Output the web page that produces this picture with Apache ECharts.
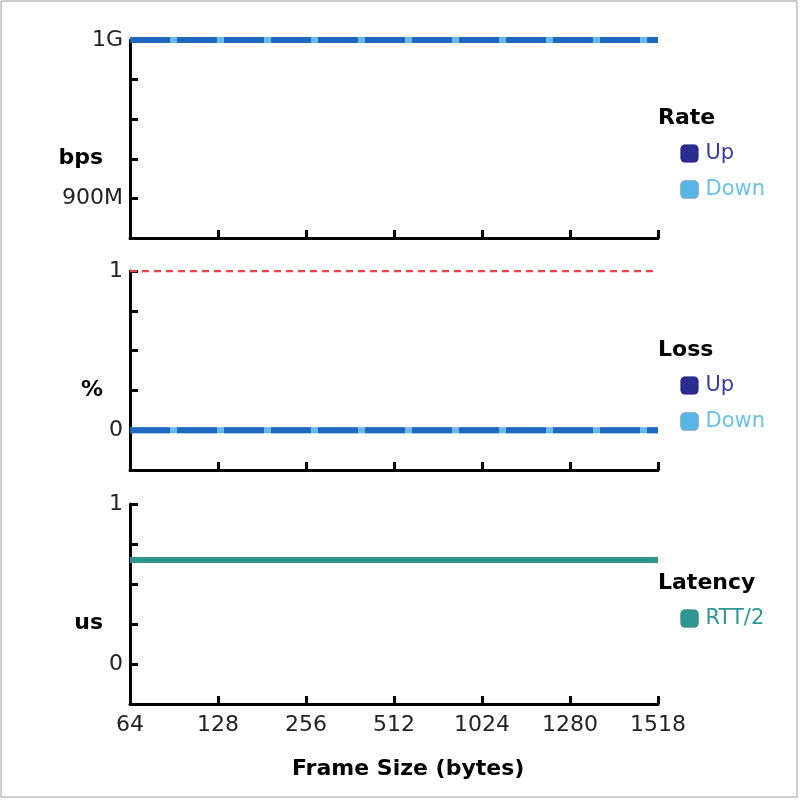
<!DOCTYPE html>
<html>
<head>
<meta charset="utf-8">
<script src="https://cdn.jsdelivr.net/npm/echarts@6/dist/echarts.min.js"></script>
<style>
  html, body { margin: 0; padding: 0; background: #fff; }
  #chart { width: 800px; height: 801px; }
</style>
</head>
<body>
<div id="chart"></div>
<script>
  // frame sizes (bytes)
  var frameSizes = ['64', '128', '256', '512', '1024', '1280', '1518'];
  // rate in Mbps
  var rateUp = [1000, 1000, 1000, 1000, 1000, 1000, 1000];
  var rateDown = [1000, 1000, 1000, 1000, 1000, 1000, 1000];
  // loss in %
  var lossUp = [0, 0, 0, 0, 0, 0, 0];
  var lossDown = [0, 0, 0, 0, 0, 0, 0];
  var lossLimit = [1, 1, 1, 1, 1, 1, 1];
  // latency in us
  var latencyRtt = [0.65, 0.65, 0.65, 0.65, 0.65, 0.65, 0.65];
  // tick labels shown on y axes
  var rateTickLabels = {1000: '1G', 900: '900M'};
  var unitTickLabels = {1: '1', 0: '0'};

  var font = 'Verdana, "DejaVu Sans", sans-serif';
  var navy = '#2b2c8f', lightBlue = '#5ab4e6', dashBlue = '#1e68bf', teal = '#2e9591';

  var grids = [
    {left: 130, right: 142, top: 40, height: 198},
    {left: 130, right: 142, top: 271, height: 199},
    {left: 130, right: 142, top: 504, height: 200}
  ];

  function xAxis(idx, withLabels) {
    return {
      type: 'category', gridIndex: idx, data: frameSizes, boundaryGap: false,
      axisLine: {onZero: false, lineStyle: {color: '#000', width: 3}},
      axisTick: {inside: true, length: 8, lineStyle: {color: '#000', width: 3}},
      axisLabel: {show: withLabels, color: '#222', fontFamily: font, fontSize: 22, margin: 10},
      splitLine: {show: false}
    };
  }

  function yAxis(idx, min, max, interval, labels) {
    return {
      type: 'value', gridIndex: idx, min: min, max: max, interval: interval,
      axisLine: {show: true, lineStyle: {color: '#000', width: 3}},
      axisTick: {show: true, inside: true, length: 8, lineStyle: {color: '#000', width: 3}},
      axisLabel: {
        color: '#222', fontFamily: font, fontSize: 22, margin: 7,
        formatter: function (v) { return labels[v] !== undefined ? labels[v] : ''; }
      },
      splitLine: {show: false}
    };
  }

  function legend(top, items) {
    return {
      orient: 'vertical', left: 680, top: top, padding: 0,
      itemWidth: 18, itemHeight: 18, itemGap: 15, icon: 'roundRect',
      textStyle: {fontFamily: font, fontSize: 21, padding: [0, 0, 0, 2]},
      data: items
    };
  }

  function legendItem(name, color, textColor) {
    return {name: name, itemStyle: {color: color, borderColor: 'rgba(0,0,0,0.15)', borderWidth: 1},
      textStyle: {color: textColor}};
  }

  var option = {
    animation: false,
    backgroundColor: '#fff',
    grid: grids,
    xAxis: [xAxis(0, false), xAxis(1, false), xAxis(2, true)],
    yAxis: [
      yAxis(0, 875, 1000, 25, rateTickLabels),
      yAxis(1, -0.25, 1, 0.25, unitTickLabels),
      yAxis(2, -0.25, 1, 0.25, unitTickLabels)
    ],
    legend: [
      legend(143, [legendItem('Up', navy, '#3d3a9b'), legendItem('Down', lightBlue, '#6cc0ea')]),
      legend(375, [legendItem('Up', navy, '#3d3a9b'), legendItem('Down', lightBlue, '#6cc0ea')]),
      legend(608, [legendItem('RTT/2', teal, '#2e9893')])
    ],
    graphic: [
      {type: 'rect', shape: {x: 1, y: 1, width: 796, height: 796}, style: {fill: 'none', stroke: '#9a9a9a', lineWidth: 1}},
      {type: 'text', left: 658, top: 107, style: {text: 'Rate', font: 'bold 22px ' + font, fill: '#000'}},
      {type: 'text', left: 658, top: 339, style: {text: 'Loss', font: 'bold 22px ' + font, fill: '#000'}},
      {type: 'text', left: 658, top: 572, style: {text: 'Latency', font: 'bold 22px ' + font, fill: '#000'}},
      {type: 'text', right: 697, top: 147, style: {text: 'bps', font: 'bold 22px ' + font, fill: '#000'}},
      {type: 'text', right: 697, top: 379, style: {text: '%', font: 'bold 22px ' + font, fill: '#000'}},
      {type: 'text', right: 697, top: 612, style: {text: 'us', font: 'bold 22px ' + font, fill: '#000'}},
      {type: 'text', left: 292, top: 758, style: {text: 'Frame Size (bytes)', font: 'bold 22px ' + font, fill: '#000'}}
    ],
    series: [
      {name: 'Down', type: 'line', xAxisIndex: 0, yAxisIndex: 0, data: rateDown, showSymbol: false,
        itemStyle: {color: lightBlue}, lineStyle: {color: '#6ab8e8', width: 6}},
      {name: 'Up', type: 'line', xAxisIndex: 0, yAxisIndex: 0, data: rateUp, showSymbol: false,
        itemStyle: {color: navy}, lineStyle: {color: dashBlue, width: 6, type: [40, 7]}},
      {name: 'Limit', type: 'line', xAxisIndex: 1, yAxisIndex: 1, data: lossLimit, showSymbol: false,
        itemStyle: {color: '#f04545'}, lineStyle: {color: '#f04545', width: 2.5, type: [7, 5]}},
      {name: 'Down', type: 'line', xAxisIndex: 1, yAxisIndex: 1, data: lossDown, showSymbol: false,
        itemStyle: {color: lightBlue}, lineStyle: {color: '#6ab8e8', width: 6}},
      {name: 'Up', type: 'line', xAxisIndex: 1, yAxisIndex: 1, data: lossUp, showSymbol: false,
        itemStyle: {color: navy}, lineStyle: {color: dashBlue, width: 6, type: [40, 7]}},
      {name: 'RTT/2', type: 'line', xAxisIndex: 2, yAxisIndex: 2, data: latencyRtt, showSymbol: false,
        itemStyle: {color: teal}, lineStyle: {color: teal, width: 6}}
    ]
  };

  var myChart = echarts.init(document.getElementById('chart'));
  myChart.setOption(option);
</script>
</body>
</html>
